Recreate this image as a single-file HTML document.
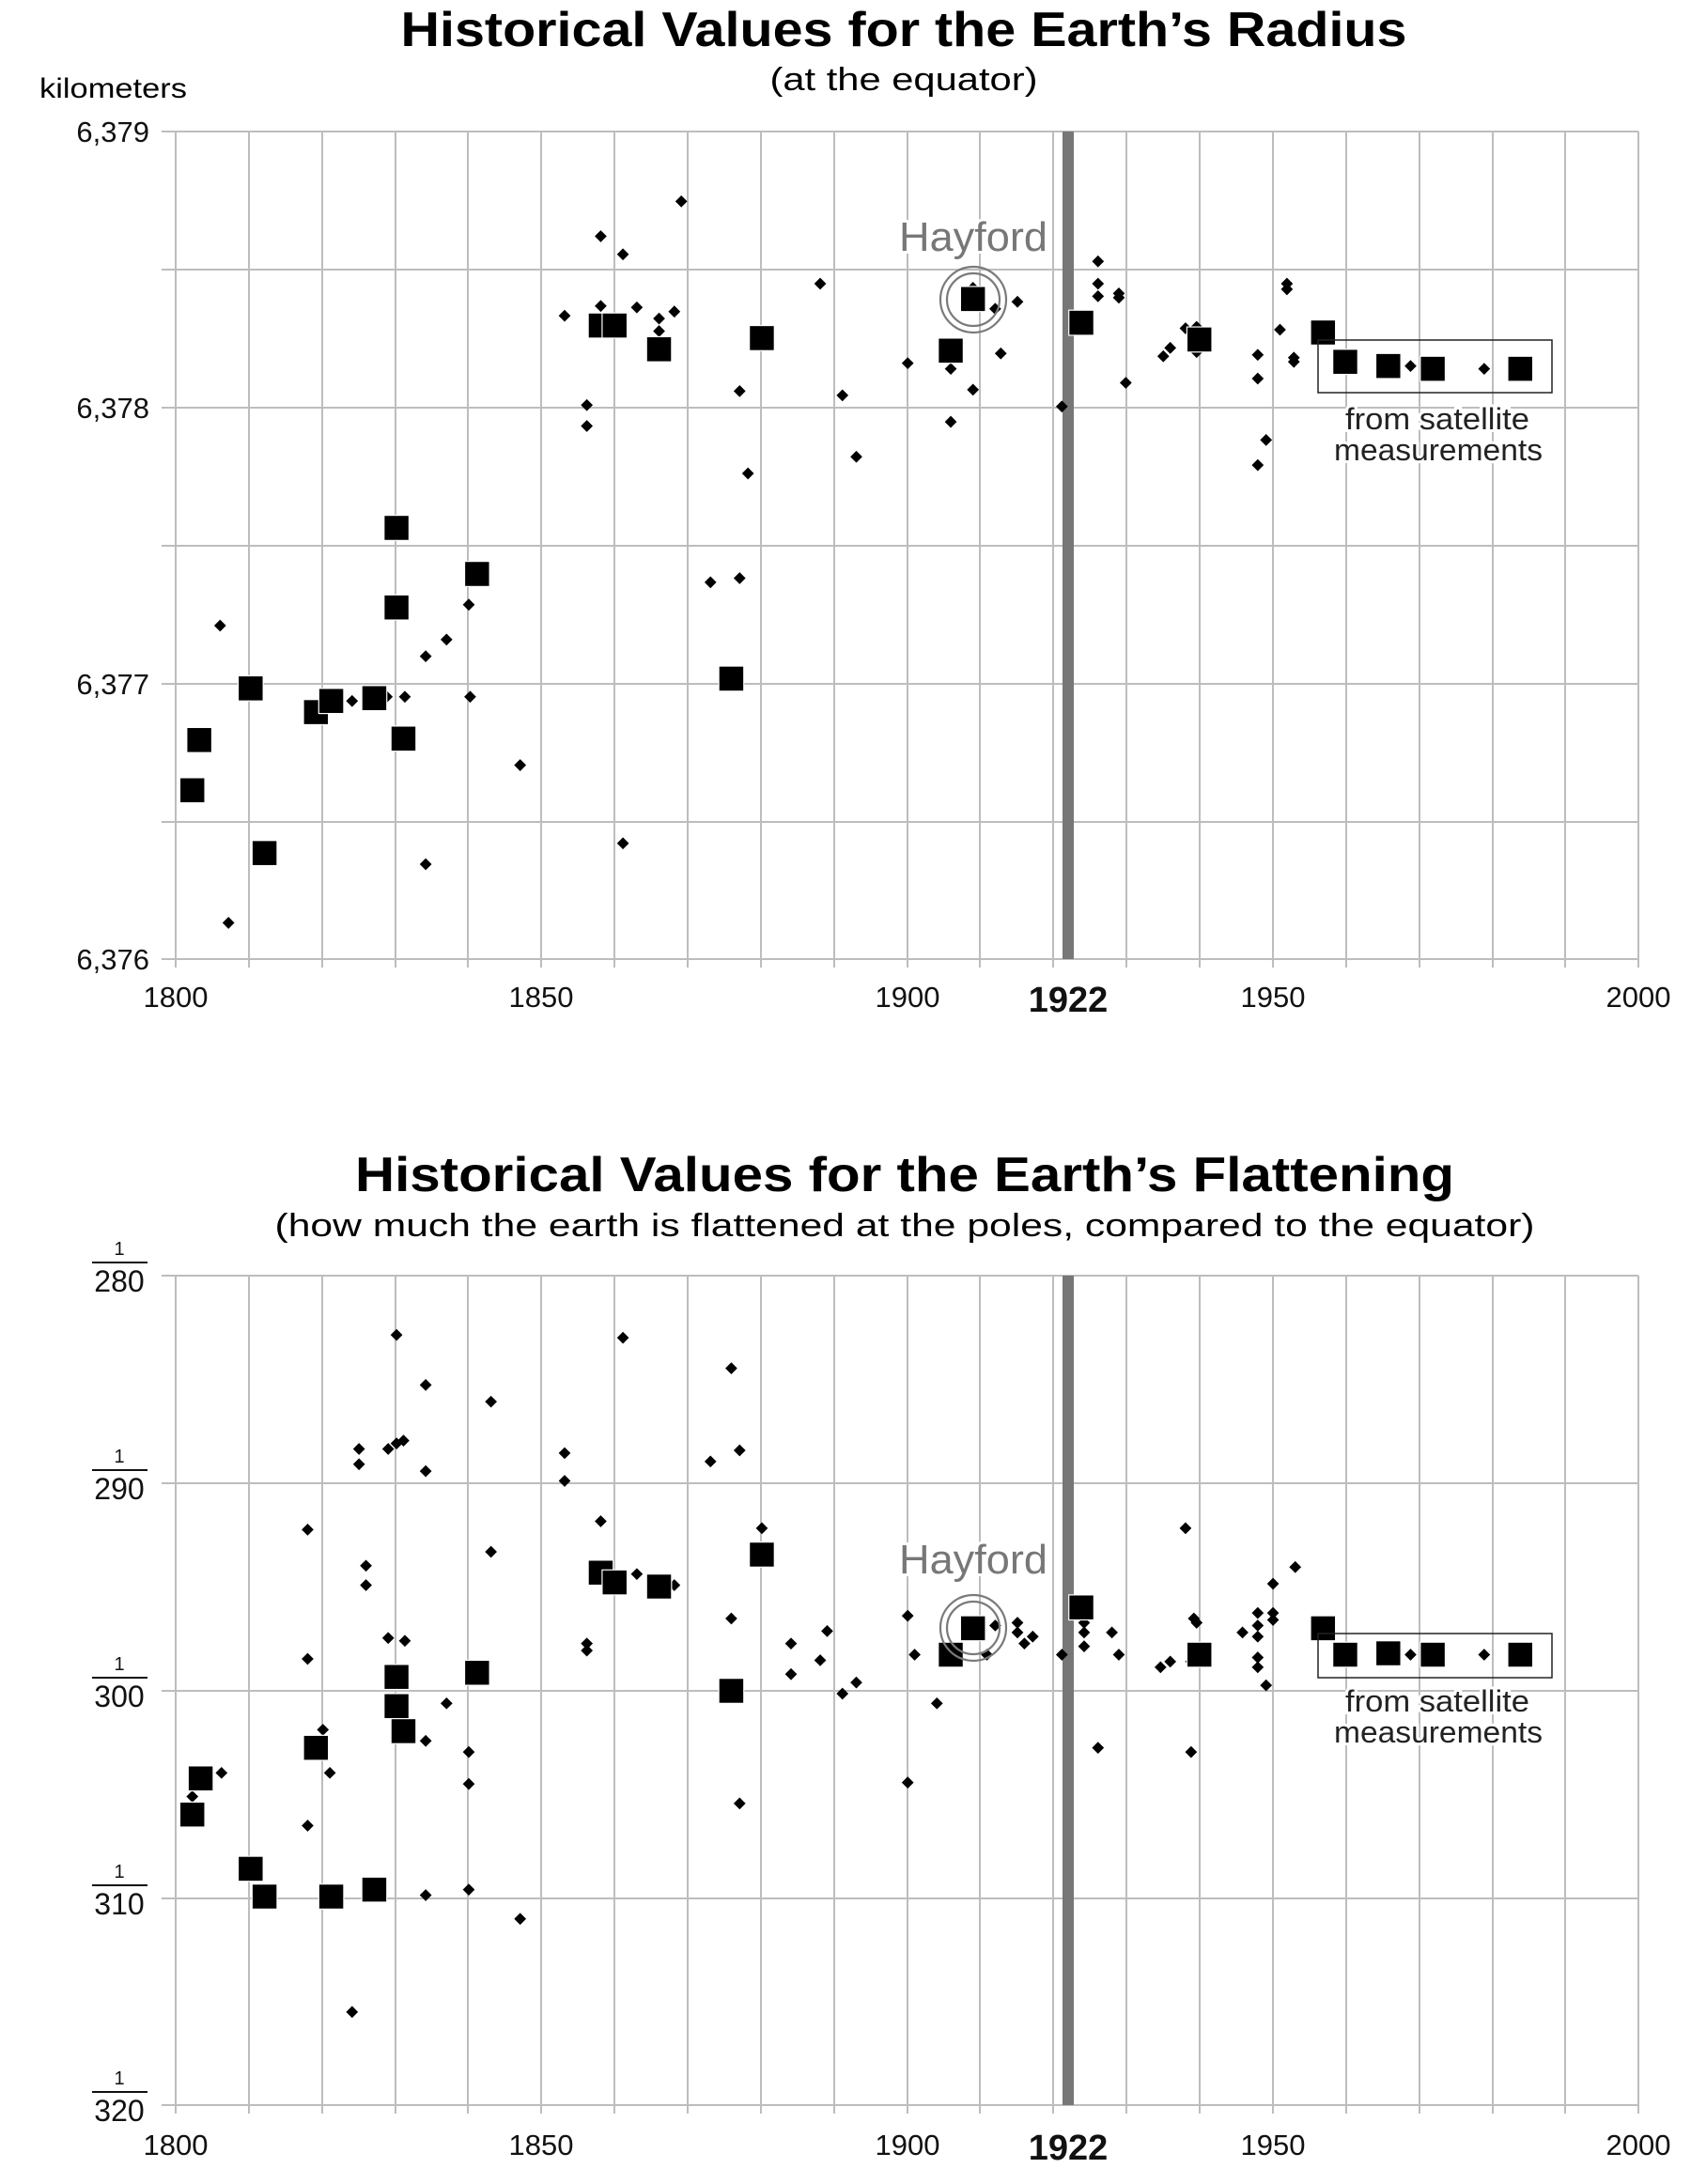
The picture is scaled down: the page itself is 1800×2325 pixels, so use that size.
<!DOCTYPE html>
<html><head><meta charset="utf-8"><style>
html,body{margin:0;padding:0;background:#fff;}
svg{display:block;font-family:"Liberation Sans",sans-serif;}
.g{stroke:#bdbdbd;stroke-width:2;fill:none;}
.lab{font-size:31px;fill:#111;}
.sat{font-size:32px;fill:#222;stroke:#fff;stroke-width:6px;paint-order:stroke;}
</style></head><body>
<svg width="1800" height="2325" viewBox="0 0 1800 2325" xmlns="http://www.w3.org/2000/svg">
<defs>
<symbol id="sq" overflow="visible"><rect x="-9" y="-9" width="18" height="18" fill="#000" stroke="#fff" stroke-width="0.8"/></symbol>
<symbol id="dm" overflow="visible"><path d="M0,-4.3 L4.3,0 L0,4.3 L-4.3,0Z" fill="#000"/></symbol>
</defs>

<!-- ============ TOP CHART ============ -->
<text x="962" y="49" text-anchor="middle" font-weight="bold" font-size="52" textLength="1071" lengthAdjust="spacingAndGlyphs">Historical Values for the Earth’s Radius</text>
<text x="962" y="96" text-anchor="middle" font-size="34" textLength="285" lengthAdjust="spacingAndGlyphs">(at the equator)</text>
<text x="42" y="104" font-size="30" textLength="157" lengthAdjust="spacingAndGlyphs">kilometers</text>

<g class="g">
<path d="M172,140H1744M172,287H1744M172,434H1744M172,581H1744M172,728H1744M172,875H1744M172,1021H1744"/>
<path d="M187,140V1030M265,140V1030M343,140V1030M421,140V1030M498,140V1030M576,140V1030M654,140V1030M732,140V1030M810,140V1030M888,140V1030M966,140V1030M1043,140V1030M1121,140V1030M1199,140V1030M1277,140V1030M1355,140V1030M1433,140V1030M1511,140V1030M1589,140V1030M1666,140V1030M1744,140V1030"/>
</g>
<g class="lab" text-anchor="end">
<text x="159" y="151">6,379</text><text x="159" y="445">6,378</text><text x="159" y="739">6,377</text><text x="159" y="1032">6,376</text>
</g>
<g class="lab" text-anchor="middle">
<text x="187" y="1072">1800</text><text x="576" y="1072">1850</text><text x="966" y="1072">1900</text><text x="1355" y="1072">1950</text><text x="1744" y="1072">2000</text>
<text x="1137" y="1077" font-weight="bold" font-size="38">1922</text>
</g>
<rect x="1131" y="140" width="12" height="881" fill="#777"/>

<g transform="matrix(1.4786 0 0 1.4857 3.65 -1.1)">
<use href="#dm" x="156" y="449"/><use href="#dm" x="162" y="662"/><use href="#dm" x="251" y="503"/><use href="#dm" x="276" y="500"/><use href="#dm" x="289" y="500"/><use href="#dm" x="304" y="471"/><use href="#dm" x="304" y="620"/><use href="#dm" x="319" y="459"/><use href="#dm" x="335" y="434"/><use href="#dm" x="336" y="500"/><use href="#dm" x="372" y="549"/><use href="#dm" x="404" y="227"/><use href="#dm" x="420" y="291"/><use href="#dm" x="420" y="306"/><use href="#dm" x="430" y="170"/><use href="#dm" x="430" y="220"/><use href="#dm" x="446" y="183"/><use href="#dm" x="446" y="605"/><use href="#dm" x="456" y="221"/><use href="#dm" x="472" y="229"/><use href="#dm" x="472" y="238"/><use href="#dm" x="483" y="224"/><use href="#dm" x="488" y="145"/><use href="#dm" x="509" y="418"/><use href="#dm" x="530" y="281"/><use href="#dm" x="530" y="415"/><use href="#dm" x="536" y="340"/><use href="#dm" x="588" y="204"/><use href="#dm" x="604" y="284"/><use href="#dm" x="614" y="328"/><use href="#dm" x="651" y="261"/><use href="#dm" x="682" y="265"/><use href="#dm" x="682" y="303"/><use href="#dm" x="698" y="280"/><use href="#dm" x="718" y="254"/><use href="#dm" x="714" y="222"/><use href="#dm" x="730" y="217"/><use href="#dm" x="762" y="292"/><use href="#dm" x="788" y="188"/><use href="#dm" x="788" y="204"/><use href="#dm" x="788" y="213"/><use href="#dm" x="803" y="211"/><use href="#dm" x="803" y="214"/><use href="#dm" x="808" y="275"/><use href="#dm" x="835" y="256"/><use href="#dm" x="840" y="250"/><use href="#dm" x="851" y="236"/><use href="#dm" x="859" y="253"/><use href="#dm" x="859" y="235"/><use href="#dm" x="903" y="255"/><use href="#dm" x="903" y="272"/><use href="#dm" x="909" y="316"/><use href="#dm" x="903" y="334"/><use href="#dm" x="919" y="237"/><use href="#dm" x="924" y="204"/><use href="#dm" x="924" y="208"/><use href="#dm" x="929" y="257"/><use href="#dm" x="929" y="260"/><use href="#dm" x="1066" y="265"/><use href="#dm" x="1013" y="263"/><use href="#dm" x="698" y="207"/>
<use href="#sq" x="136" y="567"/><use href="#sq" x="141" y="531"/><use href="#sq" x="178" y="494"/><use href="#sq" x="188" y="612"/><use href="#sq" x="225" y="511"/><use href="#sq" x="236" y="503"/><use href="#sq" x="267" y="501"/><use href="#sq" x="283" y="379"/><use href="#sq" x="283" y="436"/><use href="#sq" x="288" y="530"/><use href="#sq" x="341" y="412"/><use href="#sq" x="430" y="234"/><use href="#sq" x="440" y="234"/><use href="#sq" x="472" y="251"/><use href="#sq" x="524" y="487"/><use href="#sq" x="546" y="243"/><use href="#sq" x="682" y="252"/><use href="#sq" x="698" y="215"/><use href="#sq" x="776" y="232"/><use href="#sq" x="861" y="244"/><use href="#sq" x="950" y="239"/><use href="#sq" x="966" y="260"/><use href="#sq" x="997" y="263"/><use href="#sq" x="1029" y="265"/><use href="#sq" x="1092" y="265"/>
</g>
<circle cx="1036" cy="319" r="35" fill="none" stroke="#7a7a7a" stroke-width="2.2"/>
<circle cx="1036" cy="319" r="28" fill="none" stroke="#7a7a7a" stroke-width="2.2"/>
<text x="1036" y="267" text-anchor="middle" font-size="44" fill="#777" stroke="#fff" stroke-width="6" paint-order="stroke" textLength="158" lengthAdjust="spacingAndGlyphs">Hayford</text>
<rect x="1403" y="362" width="249" height="56" fill="none" stroke="#222" stroke-width="1.5"/>
<text class="sat" x="1530" y="457" text-anchor="middle" textLength="196" lengthAdjust="spacingAndGlyphs">from satellite</text>
<text class="sat" x="1531" y="490" text-anchor="middle" textLength="222" lengthAdjust="spacingAndGlyphs">measurements</text>

<!-- ============ BOTTOM CHART ============ -->
<text x="963" y="1268" text-anchor="middle" font-weight="bold" font-size="52" textLength="1170" lengthAdjust="spacingAndGlyphs">Historical Values for the Earth’s Flattening</text>
<text x="963" y="1316" text-anchor="middle" font-size="34" textLength="1341" lengthAdjust="spacingAndGlyphs">(how much the earth is flattened at the poles, compared to the equator)</text>

<g class="g">
<path d="M172,1358H1744M172,1579H1744M172,1800H1744M172,2021H1744M172,2241H1744"/>
<path d="M187,1358V2250M265,1358V2250M343,1358V2250M421,1358V2250M498,1358V2250M576,1358V2250M654,1358V2250M732,1358V2250M810,1358V2250M888,1358V2250M966,1358V2250M1043,1358V2250M1121,1358V2250M1199,1358V2250M1277,1358V2250M1355,1358V2250M1433,1358V2250M1511,1358V2250M1589,1358V2250M1666,1358V2250M1744,1358V2250"/>
</g>
<g text-anchor="middle" fill="#111">
<g font-size="20"><text x="127" y="1336">1</text><text x="127" y="1557">1</text><text x="127" y="1778">1</text><text x="127" y="1999">1</text><text x="127" y="2219">1</text></g>
<g font-size="32"><text x="127" y="1375">280</text><text x="127" y="1596">290</text><text x="127" y="1817">300</text><text x="127" y="2038">310</text><text x="127" y="2258">320</text></g>
</g>
<path d="M98,1344H157M98,1565H157M98,1786H157M98,2007H157M98,2227H157" stroke="#111" stroke-width="2"/>
<g class="lab" text-anchor="middle">
<text x="187" y="2294">1800</text><text x="576" y="2294">1850</text><text x="966" y="2294">1900</text><text x="1355" y="2294">1950</text><text x="1744" y="2294">2000</text>
<text x="1137" y="2299" font-weight="bold" font-size="38">1922</text>
</g>
<rect x="1131" y="1358" width="12" height="883" fill="#777"/>

<g transform="matrix(1.4786 0 0 1.4799 3.65 3.4)">
<use href="#dm" x="136" y="1290"/><use href="#dm" x="157" y="1273"/><use href="#dm" x="219" y="1098"/><use href="#dm" x="219" y="1191"/><use href="#dm" x="219" y="1311"/><use href="#dm" x="230" y="1242"/><use href="#dm" x="235" y="1273"/><use href="#dm" x="256" y="1040"/><use href="#dm" x="256" y="1051"/><use href="#dm" x="261" y="1124"/><use href="#dm" x="261" y="1138"/><use href="#dm" x="277" y="1176"/><use href="#dm" x="277" y="1040"/><use href="#dm" x="283" y="1036"/><use href="#dm" x="283" y="958"/><use href="#dm" x="288" y="1034"/><use href="#dm" x="289" y="1178"/><use href="#dm" x="304" y="994"/><use href="#dm" x="304" y="1056"/><use href="#dm" x="304" y="1250"/><use href="#dm" x="304" y="1361"/><use href="#dm" x="319" y="1223"/><use href="#dm" x="335" y="1258"/><use href="#dm" x="335" y="1281"/><use href="#dm" x="335" y="1357"/><use href="#dm" x="351" y="1006"/><use href="#dm" x="351" y="1114"/><use href="#dm" x="372" y="1378"/><use href="#dm" x="251" y="1445"/><use href="#dm" x="404" y="1043"/><use href="#dm" x="404" y="1063"/><use href="#dm" x="420" y="1180"/><use href="#dm" x="420" y="1185"/><use href="#dm" x="430" y="1092"/><use href="#dm" x="446" y="960"/><use href="#dm" x="456" y="1130"/><use href="#dm" x="483" y="1138"/><use href="#dm" x="509" y="1049"/><use href="#dm" x="524" y="982"/><use href="#dm" x="530" y="1041"/><use href="#dm" x="530" y="1295"/><use href="#dm" x="524" y="1162"/><use href="#dm" x="546" y="1097"/><use href="#dm" x="567" y="1180"/><use href="#dm" x="567" y="1202"/><use href="#dm" x="588" y="1192"/><use href="#dm" x="593" y="1171"/><use href="#dm" x="604" y="1216"/><use href="#dm" x="614" y="1208"/><use href="#dm" x="651" y="1160"/><use href="#dm" x="651" y="1280"/><use href="#dm" x="656" y="1188"/><use href="#dm" x="672" y="1223"/><use href="#dm" x="714" y="1167"/><use href="#dm" x="730" y="1165"/><use href="#dm" x="730" y="1172"/><use href="#dm" x="735" y="1180"/><use href="#dm" x="741" y="1175"/><use href="#dm" x="762" y="1188"/><use href="#dm" x="778" y="1165"/><use href="#dm" x="778" y="1172"/><use href="#dm" x="778" y="1182"/><use href="#dm" x="798" y="1172"/><use href="#dm" x="803" y="1188"/><use href="#dm" x="788" y="1255"/><use href="#dm" x="833" y="1197"/><use href="#dm" x="840" y="1193"/><use href="#dm" x="851" y="1097"/><use href="#dm" x="855" y="1193"/><use href="#dm" x="855" y="1258"/><use href="#dm" x="859" y="1165"/><use href="#dm" x="857" y="1162"/><use href="#dm" x="892" y="1172"/><use href="#dm" x="903" y="1158"/><use href="#dm" x="903" y="1167"/><use href="#dm" x="903" y="1175"/><use href="#dm" x="903" y="1190"/><use href="#dm" x="903" y="1197"/><use href="#dm" x="909" y="1210"/><use href="#dm" x="914" y="1163"/><use href="#dm" x="914" y="1137"/><use href="#dm" x="914" y="1158"/><use href="#dm" x="930" y="1125"/><use href="#dm" x="1066" y="1188"/><use href="#dm" x="1013" y="1188"/><use href="#dm" x="708" y="1188"/>
<use href="#sq" x="136" y="1303"/><use href="#sq" x="142" y="1277"/><use href="#sq" x="178" y="1342"/><use href="#sq" x="188" y="1362"/><use href="#sq" x="225" y="1255"/><use href="#sq" x="236" y="1362"/><use href="#sq" x="267" y="1357"/><use href="#sq" x="283" y="1204"/><use href="#sq" x="283" y="1225"/><use href="#sq" x="288" y="1243"/><use href="#sq" x="341" y="1201"/><use href="#sq" x="430" y="1129"/><use href="#sq" x="440" y="1136"/><use href="#sq" x="472" y="1139"/><use href="#sq" x="524" y="1214"/><use href="#sq" x="546" y="1116"/><use href="#sq" x="682" y="1188"/><use href="#sq" x="698" y="1169"/><use href="#sq" x="776" y="1154"/><use href="#sq" x="861" y="1188"/><use href="#sq" x="950" y="1169"/><use href="#sq" x="966" y="1188"/><use href="#sq" x="997" y="1187"/><use href="#sq" x="1029" y="1188"/><use href="#sq" x="1092" y="1188"/>
</g>
<circle cx="1036" cy="1733" r="35" fill="none" stroke="#7a7a7a" stroke-width="2.2"/>
<circle cx="1036" cy="1733" r="28" fill="none" stroke="#7a7a7a" stroke-width="2.2"/>
<text x="1036" y="1675" text-anchor="middle" font-size="44" fill="#777" stroke="#fff" stroke-width="6" paint-order="stroke" textLength="158" lengthAdjust="spacingAndGlyphs">Hayford</text>
<rect x="1403" y="1739" width="249" height="47" fill="none" stroke="#222" stroke-width="1.5"/>
<text class="sat" x="1530" y="1822" text-anchor="middle" textLength="196" lengthAdjust="spacingAndGlyphs">from satellite</text>
<text class="sat" x="1531" y="1855" text-anchor="middle" textLength="222" lengthAdjust="spacingAndGlyphs">measurements</text>
</svg>
</body></html>
